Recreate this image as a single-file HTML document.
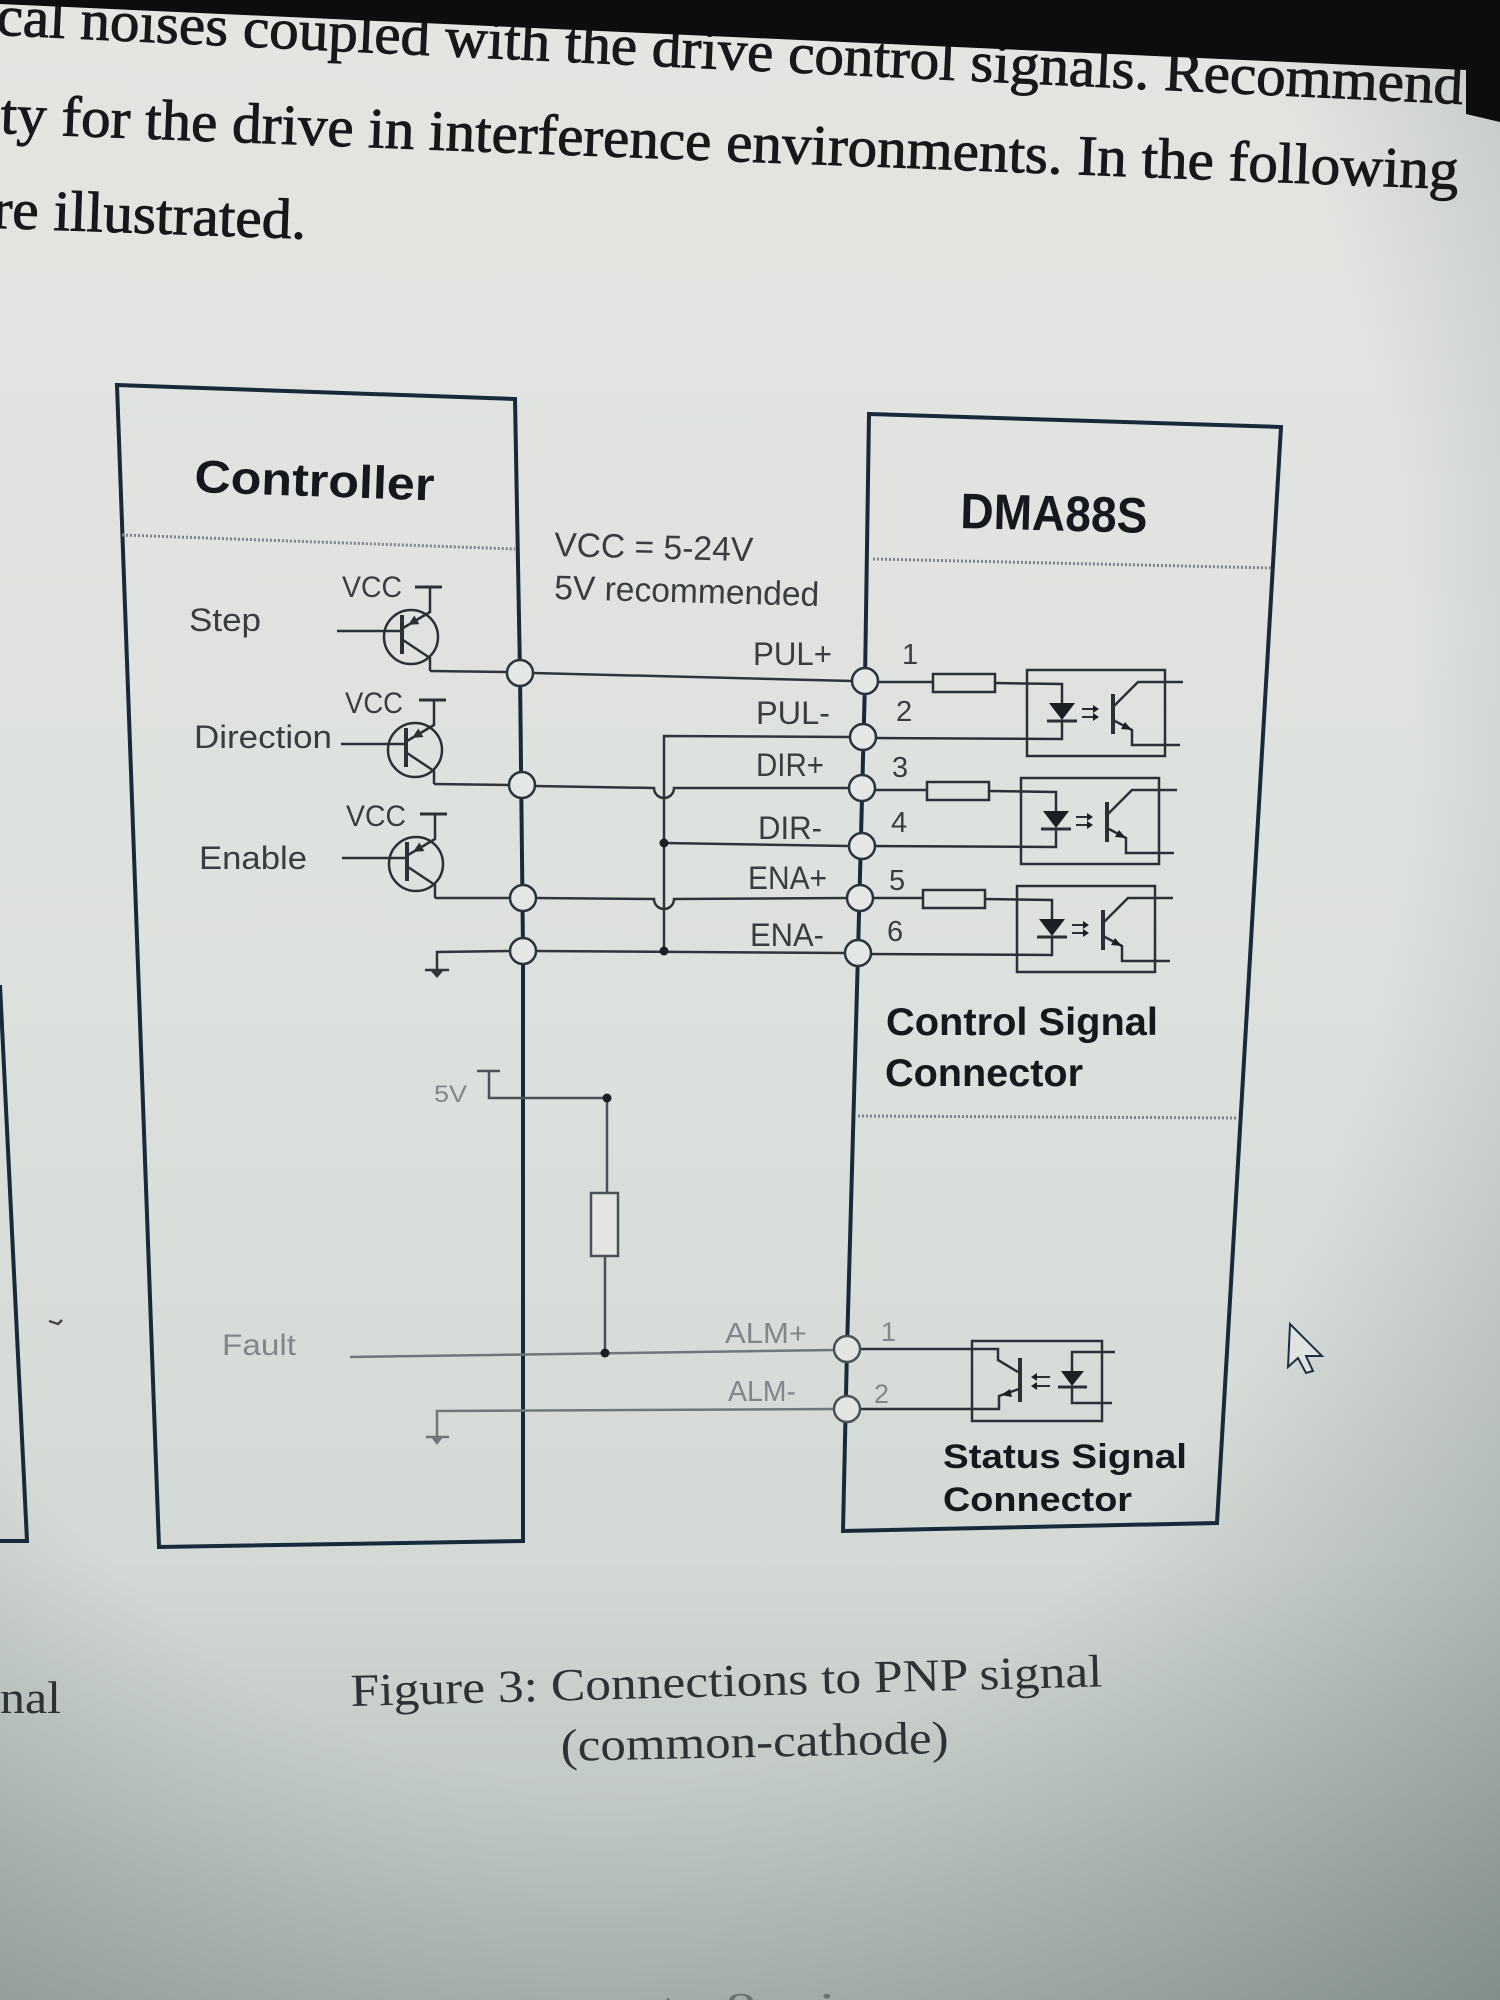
<!DOCTYPE html>
<html><head><meta charset="utf-8"><style>
html,body{margin:0;padding:0;width:1500px;height:2000px;overflow:hidden;background:#dde1dd}
svg{display:block}
.lbl{font-family:"Liberation Sans",sans-serif;fill:#3a3d40}
.bold{font-family:"Liberation Sans",sans-serif;font-weight:bold;fill:#15191d}
.ser{font-family:"Liberation Serif",serif;fill:#161819}
.gray{font-family:"Liberation Sans",sans-serif;fill:#80878a}
</style></head><body>
<svg width="1500" height="2000" viewBox="0 0 1500 2000" xmlns="http://www.w3.org/2000/svg">
<defs>
 <linearGradient id="bg" x1="0" y1="0" x2="0" y2="1">
  <stop offset="0" stop-color="#e3e5e1"/>
  <stop offset="0.5" stop-color="#dde1dd"/>
  <stop offset="0.78" stop-color="#d3d9d5"/>
  <stop offset="1" stop-color="#b4bdb8"/>
 </linearGradient>
 <radialGradient id="vig" cx="0.4" cy="0.35" r="0.9">
  <stop offset="0.6" stop-color="#2a3c38" stop-opacity="0"/>
  <stop offset="1" stop-color="#2a3c38" stop-opacity="0.38"/>
 </radialGradient>
 <g id="tr" fill="none" stroke="#2b3036" stroke-width="2.5">
  <circle r="27"/>
  <line x1="-74" y1="-6" x2="-9" y2="-6"/>
  <line x1="-9" y1="-22" x2="-9" y2="17" stroke-width="4"/>
  <polyline points="-8,-9 19,-25 19,-50"/>
  <line x1="4" y1="-50" x2="31" y2="-50" stroke-width="3"/>
  <polyline points="-8,3 19,21 19,34"/>
  <polygon points="-2.8,-12.1 8.4,-12.9 3.3,-21.5" fill="#2b3036" stroke="none"/>
 </g>
 <g id="opto" fill="none" stroke="#2b3036" stroke-width="2.5">
  <line x1="878" y1="682" x2="933" y2="682"/>
  <rect x="933" y="674" width="62" height="18"/>
  <polyline points="995,683 1062,684 1062,703"/>
  <polygon points="1049,703 1075,703 1062,720" fill="#1c2024" stroke="none"/>
  <line x1="1047" y1="721" x2="1077" y2="721" stroke-width="3"/>
  <polyline points="1062,721 1062,739 876,738"/>
  <rect x="1027" y="670" width="138" height="86"/>
  <line x1="1082" y1="709" x2="1094" y2="709" stroke-width="2"/>
  <line x1="1082" y1="717" x2="1094" y2="717" stroke-width="2"/>
  <polygon points="1099,709 1093,705 1093,713" fill="#1c2024" stroke="none"/>
  <polygon points="1099,717 1093,713 1093,721" fill="#1c2024" stroke="none"/>
  <line x1="1113" y1="694" x2="1113" y2="734" stroke-width="4"/>
  <polyline points="1113,707 1138,682 1183,682"/>
  <polyline points="1113,720 1132,730 1132,745 1180,745"/>
  <polygon points="1132,730 1121,729 1125,722" fill="#1c2024" stroke="none"/>
 </g>
</defs>

<rect width="1500" height="2000" fill="url(#bg)"/>
<rect width="1500" height="2000" fill="url(#vig)"/>

<!-- top paragraph -->
<g stroke="#161819" stroke-width="0.9">
<text class="ser" x="-4" y="35" font-size="57" textLength="1468" lengthAdjust="spacingAndGlyphs" transform="rotate(2.7 0 35)">cal noises coupled with the drive control signals. Recommend</text>
<text class="ser" x="0" y="133" font-size="57" textLength="1459" lengthAdjust="spacingAndGlyphs" transform="rotate(2.2 0 133)">ty for the drive in interference environments. In the following</text>
<text class="ser" x="-8" y="228" font-size="57" textLength="314" lengthAdjust="spacingAndGlyphs" transform="rotate(2 0 228)">re illustrated.</text>
</g>
<polygon points="0,0 1500,0 1500,122 1466,114 1466,70 0,4" fill="#0c0d0d"/>

<!-- left fragment -->
<polyline points="0,985 27,1541 0,1541" fill="none" stroke="#17293b" stroke-width="4"/>
<path d="M49 1321 L58 1324 L62 1320" fill="none" stroke="#444" stroke-width="2.5"/>

<!-- Controller box -->
<polygon points="117,385 515,399 520,673 523,950 523,1541 159,1547" fill="none" stroke="#17293b" stroke-width="4"/>
<line x1="122" y1="535" x2="515" y2="549" stroke="#7d8488" stroke-width="3" stroke-dasharray="2 2"/>
<text class="bold" x="194" y="492" font-size="46" textLength="240" lengthAdjust="spacingAndGlyphs" transform="rotate(2 194 492)">Controller</text>

<!-- DMA88S box -->
<polygon points="869,414 1281,427 1217,1523 843,1531 847,1349 858,953 865,681" fill="none" stroke="#17293b" stroke-width="4"/>
<line x1="873" y1="559" x2="1272" y2="568" stroke="#7d8488" stroke-width="3" stroke-dasharray="2 2"/>
<line x1="858" y1="1116" x2="1237" y2="1118" stroke="#7d8488" stroke-width="3" stroke-dasharray="2 2"/>
<text class="bold" x="960" y="528" font-size="50" textLength="187" lengthAdjust="spacingAndGlyphs" transform="rotate(1.5 960 528)">DMA88S</text>

<!-- VCC notes -->
<text class="lbl" x="554" y="556" font-size="34" textLength="199" lengthAdjust="spacingAndGlyphs" transform="rotate(1.5 554 556)">VCC = 5-24V</text>
<text class="lbl" x="554" y="599" font-size="34" textLength="265" lengthAdjust="spacingAndGlyphs" transform="rotate(1.5 554 599)">5V recommended</text>

<!-- left labels -->
<text class="lbl" x="189" y="631" font-size="32" textLength="72" lengthAdjust="spacingAndGlyphs">Step</text>
<text class="lbl" x="194" y="748" font-size="32" textLength="138" lengthAdjust="spacingAndGlyphs">Direction</text>
<text class="lbl" x="199" y="869" font-size="32" textLength="108" lengthAdjust="spacingAndGlyphs">Enable</text>
<text class="lbl" x="342" y="597" font-size="30" textLength="60" lengthAdjust="spacingAndGlyphs">VCC</text>
<text class="lbl" x="345" y="713" font-size="30" textLength="58" lengthAdjust="spacingAndGlyphs">VCC</text>
<text class="lbl" x="346" y="826" font-size="30" textLength="60" lengthAdjust="spacingAndGlyphs">VCC</text>

<!-- transistors -->
<use href="#tr" transform="translate(411,637)"/>
<use href="#tr" transform="translate(415,750)"/>
<use href="#tr" transform="translate(416,864)"/>

<!-- control wires -->
<g fill="none" stroke="#2f353b" stroke-width="2.5">
 <line x1="430" y1="671" x2="507" y2="672"/>
 <line x1="533" y1="673" x2="852" y2="681"/>
 <line x1="434" y1="784" x2="509" y2="785"/>
 <path d="M535 786 L654 788 A10 10 0 0 0 674 788 L849 788"/>
 <line x1="435" y1="898" x2="510" y2="898"/>
 <path d="M536 898 L654 899 A10 10 0 0 0 674 899 L847 898"/>
 <polyline points="437,970 437,952 510,951"/>
 <line x1="536" y1="951" x2="845" y2="953"/>
 <polyline points="850,737 664,736 664,951"/>
 <line x1="664" y1="843" x2="849" y2="846"/>
 <line x1="425" y1="970" x2="449" y2="970"/>
</g>
<polygon points="430,970 444,970 437,978" fill="#2f353b"/>
<circle cx="664" cy="843" r="4.5" fill="#1c2024"/>
<circle cx="664" cy="951" r="4.5" fill="#1c2024"/>

<!-- signal labels -->
<g class="lbl" font-size="32">
 <text x="753" y="665" textLength="79" lengthAdjust="spacingAndGlyphs">PUL+</text>
 <text x="756" y="724" textLength="74" lengthAdjust="spacingAndGlyphs">PUL-</text>
 <text x="756" y="776" textLength="68" lengthAdjust="spacingAndGlyphs">DIR+</text>
 <text x="758" y="839" textLength="64" lengthAdjust="spacingAndGlyphs">DIR-</text>
 <text x="748" y="889" textLength="79" lengthAdjust="spacingAndGlyphs">ENA+</text>
 <text x="750" y="946" textLength="74" lengthAdjust="spacingAndGlyphs">ENA-</text>
</g>
<g class="lbl" font-size="29">
 <text x="902" y="664">1</text>
 <text x="896" y="721">2</text>
 <text x="892" y="777">3</text>
 <text x="891" y="832">4</text>
 <text x="889" y="890">5</text>
 <text x="887" y="941">6</text>
</g>

<!-- optocouplers -->
<use href="#opto"/>
<use href="#opto" transform="translate(-6,108)"/>
<use href="#opto" transform="translate(-10,216)"/>

<!-- connector circles -->
<g fill="#e4e7e3" stroke="#2a3340" stroke-width="2.5">
 <circle cx="520" cy="673" r="13"/>
 <circle cx="522" cy="785" r="13"/>
 <circle cx="523" cy="898" r="13"/>
 <circle cx="523" cy="951" r="13"/>
 <circle cx="865" cy="681" r="13"/>
 <circle cx="863" cy="737" r="13"/>
 <circle cx="862" cy="788" r="13"/>
 <circle cx="862" cy="846" r="13"/>
 <circle cx="860" cy="898" r="13"/>
 <circle cx="858" cy="953" r="13"/>
</g>

<text class="bold" x="886" y="1035" font-size="39" textLength="272" lengthAdjust="spacingAndGlyphs">Control Signal</text>
<text class="bold" x="885" y="1086" font-size="39" textLength="198" lengthAdjust="spacingAndGlyphs">Connector</text>

<!-- fault section -->
<text class="gray" x="434" y="1102" font-size="24" textLength="33" lengthAdjust="spacingAndGlyphs">5V</text>
<g fill="none" stroke="#4a5055" stroke-width="2.5">
 <line x1="477" y1="1071" x2="500" y2="1071"/>
 <polyline points="489,1071 489,1098 607,1098 607,1193"/>
 <rect x="591" y="1193" width="27" height="63" fill="#e2e5e1"/>
 <line x1="605" y1="1256" x2="605" y2="1353"/>
</g>
<circle cx="607" cy="1098" r="4.5" fill="#1c2024"/>
<g fill="none" stroke="#6f777a" stroke-width="2.5">
 <line x1="350" y1="1357" x2="834" y2="1350"/>
 <polyline points="437,1437 437,1411 834,1409"/>
 <line x1="426" y1="1437" x2="449" y2="1437"/>
</g>
<polygon points="431,1437 443,1437 437,1445" fill="#6f777a"/>
<circle cx="605" cy="1353" r="4.5" fill="#1c2024"/>
<text class="gray" x="222" y="1355" font-size="30" textLength="74" lengthAdjust="spacingAndGlyphs">Fault</text>
<text class="gray" x="725" y="1343" font-size="29" textLength="82" lengthAdjust="spacingAndGlyphs">ALM+</text>
<text class="gray" x="728" y="1401" font-size="29" textLength="68" lengthAdjust="spacingAndGlyphs">ALM-</text>
<text class="gray" x="881" y="1341" font-size="27">1</text>
<text class="gray" x="874" y="1403" font-size="27">2</text>

<!-- status opto -->
<g fill="none" stroke="#2b3036" stroke-width="2.5">
 <polyline points="860,1349 998,1349 998,1360 1018,1372"/>
 <rect x="972" y="1341" width="130" height="80"/>
 <line x1="1020" y1="1358" x2="1020" y2="1402" stroke-width="4"/>
 <polyline points="1019,1389 999,1396 999,1409 860,1409"/>
 <line x1="1036" y1="1377" x2="1050" y2="1377" stroke-width="2"/>
 <line x1="1036" y1="1386" x2="1050" y2="1386" stroke-width="2"/>
 <line x1="1058" y1="1387" x2="1087" y2="1387" stroke-width="3"/>
 <polyline points="1072,1371 1072,1352 1115,1352"/>
 <polyline points="1072,1387 1072,1403 1112,1403"/>
</g>
<polygon points="1031,1377 1037,1373 1037,1381" fill="#1c2024"/>
<polygon points="1031,1386 1037,1382 1037,1390" fill="#1c2024"/>
<polygon points="1061,1371 1084,1371 1072,1386" fill="#1c2024"/>
<polygon points="1001,1395 1010,1389 1012,1397" fill="#1c2024"/>
<g fill="#e2e5e1" stroke="#4a5258" stroke-width="2.5">
 <circle cx="847" cy="1349" r="13"/>
 <circle cx="847" cy="1409" r="13"/>
</g>
<text class="bold" x="943" y="1468" font-size="34" textLength="244" lengthAdjust="spacingAndGlyphs">Status Signal</text>
<text class="bold" x="943" y="1511" font-size="34" textLength="189" lengthAdjust="spacingAndGlyphs">Connector</text>

<!-- cursor -->
<polygon points="1290,1324 1288,1367 1298,1358 1306,1373 1313,1371 1306,1356 1322,1356" fill="#dfe4e2" stroke="#1d2f44" stroke-width="2"/>

<!-- caption -->
<text class="ser" x="0" y="1713" font-size="46" textLength="61" lengthAdjust="spacingAndGlyphs" style="fill:#2e3234">nal</text>
<text class="ser" x="351" y="1706" font-size="46" textLength="752" lengthAdjust="spacingAndGlyphs" transform="rotate(-1.5 351 1706)" style="fill:#2e3234">Figure 3: Connections to PNP signal</text>
<text class="ser" x="561" y="1761" font-size="46" textLength="388" lengthAdjust="spacingAndGlyphs" transform="rotate(-1.2 561 1761)" style="fill:#2e3234">(common-cathode)</text>
<text class="ser" x="660" y="2024" font-size="46" textLength="250" lengthAdjust="spacingAndGlyphs" style="fill:#6a7470">to 8 wires</text>
</svg>
</body></html>
